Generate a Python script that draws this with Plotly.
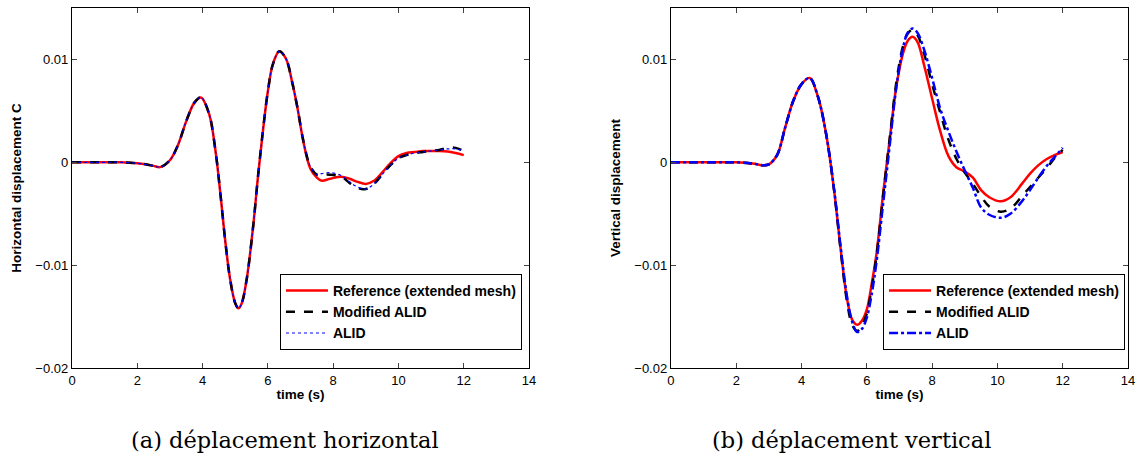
import plotly.graph_objects as go

# ---------------- (a) horizontal displacement ----------------
t_h = [0.0, 0.5, 1.0, 1.5, 2.0, 2.25, 2.5, 2.7, 3.0, 3.25, 3.5, 3.75, 3.95, 4.2, 4.4, 4.55,
       4.7, 4.85, 5.0, 5.1, 5.2, 5.35, 5.55, 5.7, 5.85, 6.0, 6.15, 6.35, 6.55, 6.75, 6.9, 7.1,
       7.3, 7.5, 7.65, 7.9, 8.25, 8.5, 8.75, 9.0, 9.25, 9.5, 9.75, 10.0, 10.25, 10.5, 10.75,
       11.0, 11.25, 11.5, 11.75, 12.0]
h_ref = [0, 0, 0, 0, -0.0001, -0.0002, -0.00035, -0.00047, 0.0002, 0.0017, 0.0040, 0.0058,
         0.0063, 0.0047, 0.0010, -0.0032, -0.0078, -0.0115, -0.0137, -0.0142, -0.0137, -0.0114,
         -0.0062, -0.0013, 0.0031, 0.0069, 0.0095, 0.0108, 0.0101, 0.0077, 0.0054, 0.0018,
         -0.0006, -0.0015, -0.0018, -0.0016, -0.0014, -0.0016, -0.0019, -0.0021, -0.0018,
         -0.0010, -0.0001, 0.0006, 0.0009, 0.0010, 0.0011, 0.0011, 0.0011, 0.00105, 0.0009,
         0.0007]
h_mod = [0, 0, 0, 0, -0.0001, -0.0002, -0.00035, -0.00047, 0.0002, 0.0017, 0.0040, 0.0058,
         0.0063, 0.0047, 0.0010, -0.0032, -0.0078, -0.0115, -0.0137, -0.0142, -0.0137, -0.0114,
         -0.0062, -0.0013, 0.0031, 0.0069, 0.0095, 0.0108, 0.0101, 0.0077, 0.0054, 0.0019,
         -0.0004, -0.0012, -0.0012, -0.0012, -0.0014, -0.0020, -0.0025, -0.0026, -0.0021,
         -0.0012, -0.0003, 0.0004, 0.0007, 0.0009, 0.0010, 0.0011, 0.0012, 0.0014, 0.0014,
         0.0011]
h_alid = [0, 0, 0, 0, -0.0001, -0.0002, -0.00035, -0.00047, 0.0002, 0.0017, 0.0040, 0.0058,
          0.0063, 0.0047, 0.0010, -0.0032, -0.0078, -0.0115, -0.0137, -0.0142, -0.0137, -0.0114,
          -0.0062, -0.0013, 0.0031, 0.0069, 0.0095, 0.0108, 0.0101, 0.0077, 0.0054, 0.0019,
          -0.0004, -0.0012, -0.0011, -0.0010, -0.0013, -0.0019, -0.0024, -0.0026, -0.0021,
          -0.0012, -0.0003, 0.0004, 0.0007, 0.0009, 0.0010, 0.0011, 0.0012, 0.0013, 0.0013,
          0.0011]

# ---------------- (b) vertical displacement ----------------
t_v = [0.0, 0.5, 1.0, 1.5, 2.0, 2.5, 2.85, 3.0, 3.25, 3.5, 3.75, 4.0, 4.25, 4.5, 4.75, 5.0,
       5.2, 5.4, 5.55, 5.7, 5.85, 6.0, 6.15, 6.3, 6.5, 6.7, 6.9, 7.1, 7.25, 7.4, 7.55, 7.75,
       8.0, 8.25, 8.5, 8.75, 9.0, 9.25, 9.5, 9.75, 10.1, 10.4, 10.75, 11.0, 11.25, 11.5,
       11.75, 12.0]
v_ref = [0, 0, 0, 0, 0, -0.00012, -0.0003, -0.0002, 0.0007, 0.0034, 0.0060, 0.0076, 0.0082,
         0.0064, 0.0028, -0.0028, -0.0085, -0.0134, -0.0153, -0.0158, -0.0154, -0.0143,
         -0.0118, -0.0088, -0.0030, 0.0022, 0.0073, 0.0105, 0.0118, 0.0122, 0.0117, 0.0095,
         0.0062, 0.0030, 0.0006, -0.0005, -0.0009, -0.0015, -0.0027, -0.0034, -0.0038,
         -0.0034, -0.0021, -0.0011, -0.0003, 0.0003, 0.0007, 0.0010]
v_mod = [0, 0, 0, 0, 0, -0.00012, -0.0003, -0.0002, 0.0007, 0.0034, 0.0060, 0.0076, 0.0082,
         0.0064, 0.0028, -0.0028, -0.0086, -0.0137, -0.0158, -0.0164, -0.0159, -0.0147,
         -0.0122, -0.0090, -0.0032, 0.0023, 0.0077, 0.0112, 0.0125, 0.0129, 0.0124, 0.0106,
         0.0076, 0.0048, 0.0022, 0.0003, -0.0010, -0.0021, -0.0033, -0.0043, -0.0048,
         -0.0045, -0.0033, -0.0024, -0.0015, -0.0006, 0.0004, 0.0012]
v_alid = [0, 0, 0, 0, 0, -0.00012, -0.0003, -0.0002, 0.0007, 0.0034, 0.0060, 0.0076, 0.0082,
          0.0064, 0.0028, -0.0027, -0.0083, -0.0132, -0.0155, -0.0165, -0.0162, -0.0151,
          -0.0128, -0.0096, -0.0040, 0.0016, 0.0072, 0.0110, 0.0126, 0.0130, 0.0126, 0.0110,
          0.0082, 0.0052, 0.0030, 0.0010, -0.0008, -0.0025, -0.0044, -0.0051, -0.0054,
          -0.0050, -0.0038, -0.0027, -0.0015, -0.0004, 0.0005, 0.0014]

names = ["Reference (extended mesh)", "Modified ALID", "ALID"]
xticks = [0, 2, 4, 6, 8, 10, 12, 14]
yticks = [-0.02, -0.01, 0, 0.01]
yticktext = ["\u22120.02", "\u22120.01", "0", "0.01"]
captions = ["(a) déplacement horizontal", "(b) déplacement vertical"]
ytitles = ["Horizontal displacement C", "Vertical displacement"]
xtitle = "time (s)"

RED = "#ff0000"
BLACK = "#000000"
BLUE = "#0000ff"
SANS = "Liberation Sans, Arial, sans-serif"
SERIF = "DejaVu Serif, serif"

fig = go.Figure()

# left panel
fig.add_trace(go.Scatter(x=t_h, y=h_ref, name=names[0], mode="lines",
                         line=dict(color=RED, width=2.5, shape="spline"),
                         xaxis="x", yaxis="y", legend="legend"))
fig.add_trace(go.Scatter(x=t_h, y=h_mod, name=names[1], mode="lines",
                         line=dict(color=BLACK, width=2.5, dash="dash", shape="spline"),
                         xaxis="x", yaxis="y", legend="legend"))
fig.add_trace(go.Scatter(x=t_h, y=h_alid, name=names[2], mode="lines",
                         line=dict(color=BLUE, width=1.2, dash="dot", shape="spline"),
                         xaxis="x", yaxis="y", legend="legend"))
# right panel
fig.add_trace(go.Scatter(x=t_v, y=v_ref, name=names[0], mode="lines",
                         line=dict(color=RED, width=2.5, shape="spline"),
                         xaxis="x2", yaxis="y2", legend="legend2"))
fig.add_trace(go.Scatter(x=t_v, y=v_mod, name=names[1], mode="lines",
                         line=dict(color=BLACK, width=2.5, dash="dash", shape="spline"),
                         xaxis="x2", yaxis="y2", legend="legend2"))
fig.add_trace(go.Scatter(x=t_v, y=v_alid, name=names[2], mode="lines",
                         line=dict(color=BLUE, width=2.5, dash="dashdot", shape="spline"),
                         xaxis="x2", yaxis="y2", legend="legend2"))

TITLE_FONT = dict(family=SANS, size=13.5, color="black")
axis_common = dict(showline=True, linecolor="black", linewidth=1.3, mirror="ticks", ticks="inside",
                   ticklen=5, tickcolor="#444444", showgrid=False, zeroline=False, automargin=False,
                   tickfont=dict(family=SANS, size=13, color="black"))

legend_common = dict(xanchor="right", yanchor="bottom", bgcolor="white", bordercolor="black",
                     borderwidth=1, font=dict(family=SANS, size=14, color="black", weight="bold"),
                     tracegroupgap=0, itemwidth=42)

fig.update_layout(
    width=1140, height=460,
    margin=dict(l=72, r=12, t=8, b=92),
    paper_bgcolor="white", plot_bgcolor="white",
    xaxis=dict(domain=[0.0, 0.4328], range=[0, 14], tickvals=xticks, anchor="y",
               title=dict(text="<b>" + xtitle + "</b>", font=TITLE_FONT, standoff=2), **axis_common),
    yaxis=dict(domain=[0, 1], range=[-0.02, 0.015], tickvals=yticks, ticktext=yticktext, anchor="x",
               title=dict(text="<b>" + ytitles[0] + "</b>", font=TITLE_FONT, standoff=10), **axis_common),
    xaxis2=dict(domain=[0.5672, 1.0], range=[0, 14], tickvals=xticks, anchor="y2",
                title=dict(text="<b>" + xtitle + "</b>", font=TITLE_FONT, standoff=2), **axis_common),
    yaxis2=dict(domain=[0, 1], range=[-0.02, 0.015], tickvals=yticks, ticktext=yticktext, anchor="x2",
                title=dict(text="<b>" + ytitles[1] + "</b>", font=TITLE_FONT, standoff=10), **axis_common),
    legend=dict(x=0.4261, y=0.05, **legend_common),
    legend2=dict(x=0.9972, y=0.05, **legend_common),
    annotations=[
        dict(text=captions[0], x=0.2017, y=-0.2, xref="paper", yref="paper",
             showarrow=False, xanchor="center", yanchor="middle",
             font=dict(family=SERIF, size=22.5, color="black")),
        dict(text=captions[1], x=0.7377, y=-0.2, xref="paper", yref="paper",
             showarrow=False, xanchor="center", yanchor="middle",
             font=dict(family=SERIF, size=22.5, color="black")),
    ],
)

fig.write_html("out.html", config={"displayModeBar": False},
               post_script="document.body.style.margin='0px';")
